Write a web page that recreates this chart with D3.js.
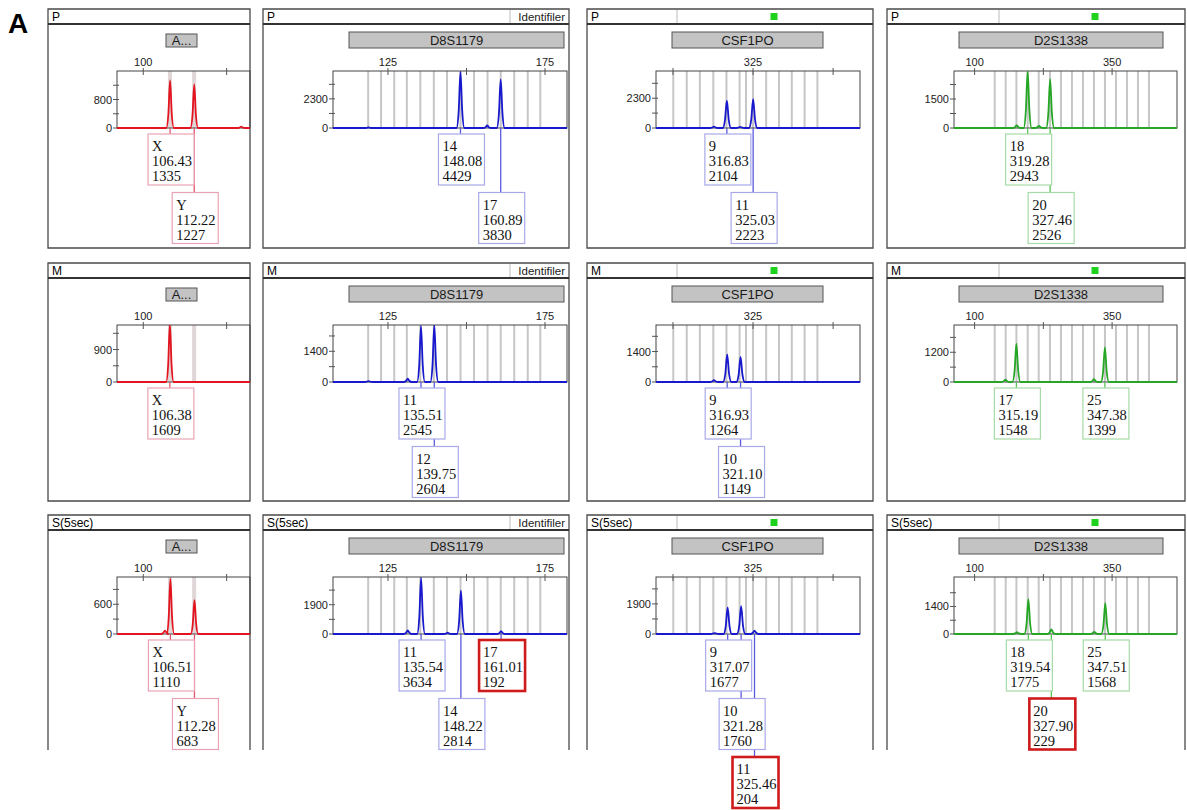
<!DOCTYPE html>
<html>
<head>
<meta charset="utf-8">
<script src="https://cdn.jsdelivr.net/npm/d3@7"></script>
<style>
  body { margin: 0; background: #fff; }
  svg { display: block; font-family: Arial, 'Liberation Sans', sans-serif; }
</style>
</head>
<body>
<div id="app"></div>
<script>
const samples = ['P', 'M', 'S(5sec)']
const loci = ['A...', 'D8S1179', 'CSF1PO', 'D2S1338']

// x ticks (bp) and the labels the software printed for them
const xTicks = [[100, 120], [125, 150, 175], [300, 325, 350], [300, 325, 350]]
const xTickLabels = [['100', ''], ['125', '', '175'], ['', '325', ''], ['100', '', '350']]
const xDomains = [[93.7, 125.6], [107.5, 182], [294.7, 358.4], [292.5, 373.6]]

// labelled y tick per panel (RFU), one row per sample
const yTickLabels = [
  [800, 2300, 2300, 1500],
  [900, 1400, 1400, 1200],
  [600, 1900, 1900, 1400]
]
// top of each panel's RFU scale
const yTops = [
  [1600, 4500, 4400, 2950],
  [1580, 2600, 2620, 2300],
  [1150, 3700, 3600, 2900]
]

// allele bins (bp)
const binsAmel = [106.4, 112.2]
const binsD8 = [118.7, 122.8, 127.0, 131.0, 135.3, 139.6, 143.8, 148.1, 152.4, 156.7, 160.9, 165.2, 169.5, 173.5]
const binsCSF = [300.1, 304.3, 308.4, 312.6, 316.7, 320.8, 322.8, 325.0, 329.1, 333.1, 337.1, 341.1, 345.1]
const binsD2 = [307.3, 311.3, 315.2, 319.3, 323.3, 327.4, 331.4, 335.4, 339.4, 343.4, 347.4, 351.4, 355.4, 359.4, 363.4]
const bins = [binsAmel, binsD8, binsCSF, binsD2]

// called alleles: [allele, size (bp), height (RFU)]
const callsP = [
  [['X', 106.43, 1335], ['Y', 112.22, 1227]],
  [['14', 148.08, 4429], ['17', 160.89, 3830]],
  [['9', 316.83, 2104], ['11', 325.03, 2223]],
  [['18', 319.28, 2943], ['20', 327.46, 2526]]
]
const callsM = [
  [['X', 106.38, 1609]],
  [['11', 135.51, 2545], ['12', 139.75, 2604]],
  [['9', 316.93, 1264], ['10', 321.10, 1149]],
  [['17', 315.19, 1548], ['25', 347.38, 1399]]
]
const callsS = [
  [['X', 106.51, 1110], ['Y', 112.28, 683]],
  [['11', 135.54, 3634], ['14', 148.22, 2814], ['17', 161.01, 192]],
  [['9', 317.07, 1677], ['10', 321.28, 1760], ['11', 325.46, 204]],
  [['18', 319.54, 1775], ['20', 327.90, 229], ['25', 347.51, 1568]]
]
// small uncalled peaks: [size (bp), height (RFU)]
const minorP = [[[123.5, 40]], [[118.8, 50], [156.6, 200]], [[312.8, 110], [321.0, 90]], [[315.3, 140], [323.4, 110]]]
const minorM = [[], [[131.3, 150], [118.8, 40]], [[312.8, 80]], [[311.2, 90], [343.4, 110]]]
const minorS = [[[105.2, 70]], [[131.3, 230], [144.0, 80]], [[313.0, 60]], [[315.4, 100], [343.5, 110]]]
const calls = [callsP, callsM, callsS]
const minors = [minorP, minorM, minorS]
const lowRFU = 300

// layout
const W = 1187, H = 810
const colLeft = [48, 263, 587, 887]
const colRight = [250, 569, 873, 1185]
const plotLeft = [117, 333, 656, 954]
const plotRight = [250, 567, 860, 1177]
const rowTop = [9, 263, 515]
const rowBottom = [248, 501, 750]
const barX = [[166, 197], [349, 564], [672, 823], [959, 1163]]
const sepX = [null, 510, 677, 999]
const squareX = [null, null, 774, 1095]
const halfWidth = [0.9, 1.25, 1.3, 1.45]
const traceColor = ['#e3141f', '#1818cc', '#1818cc', '#25a625']
const boxColor = ['#eaa3b4', '#a9a9ea', '#a9a9ea', '#a6daa6']
const linkColor = ['#e0566c', '#5a5ade', '#5a5ade', '#58c658']
const boxW = 46, boxH = 51

const svg = d3.select('#app').append('svg')
  .attr('width', W)
  .attr('height', H)

svg.append('text')
  .attr('x', 8)
  .attr('y', 33)
  .style('font-size', '28px')
  .style('font-weight', 'bold')
  .text('A')

samples.forEach((sample, r) => {
  loci.forEach((locus, c) => {
    const top = rowTop[r]
    const pTop = top + 62
    const base = top + 119
    const L = colLeft[c], R = colRight[c]
    const g = svg.append('g')

    const x = d3.scaleLinear().domain(xDomains[c]).range([plotLeft[c], plotRight[c]])
    const y = d3.scaleLinear().domain([0, yTops[r][c]]).range([base, pTop])

    // panel frame, bottom row is cut off
    const framePath = r < 2
      ? `M${L},${top}H${R}V${rowBottom[r]}H${L}Z`
      : `M${L},${rowBottom[r]}V${top}H${R}V${rowBottom[r]}`
    g.append('path')
      .attr('d', framePath)
      .attr('fill', 'none')
      .attr('stroke', '#4a4a4a')
      .attr('stroke-width', 1.3)
    g.append('line')
      .attr('x1', L).attr('x2', R)
      .attr('y1', top + 15).attr('y2', top + 15)
      .attr('stroke', '#333')
      .attr('stroke-width', 1.8)
    g.append('text')
      .attr('x', L + 4)
      .attr('y', top + 12)
      .style('font-size', '12px')
      .text(sample)
    if (sepX[c]) {
      g.append('line')
        .attr('x1', sepX[c]).attr('x2', sepX[c])
        .attr('y1', top + 1).attr('y2', top + 14)
        .attr('stroke', '#bbb')
    }
    if (c === 1) {
      g.append('text')
        .attr('x', R - 4)
        .attr('y', top + 12)
        .attr('text-anchor', 'end')
        .style('font-size', '11.5px')
        .attr('fill', '#222')
        .text('Identifiler')
    }
    if (squareX[c]) {
      g.append('rect')
        .attr('x', squareX[c] - 3.5)
        .attr('y', top + 4)
        .attr('width', 7)
        .attr('height', 7)
        .attr('fill', '#1ed21e')
    }

    // locus bar
    const bTop = c === 0 ? top + 25 : top + 23
    const bH = c === 0 ? 13 : 16
    g.append('rect')
      .attr('x', barX[c][0])
      .attr('y', bTop)
      .attr('width', barX[c][1] - barX[c][0])
      .attr('height', bH)
      .attr('fill', '#c3c3c3')
      .attr('stroke', '#555')
    g.append('text')
      .attr('x', (barX[c][0] + barX[c][1]) / 2)
      .attr('y', bTop + bH / 2 + 4.5)
      .attr('text-anchor', 'middle')
      .style('font-size', '13px')
      .attr('fill', '#1a1a1a')
      .text(locus)

    // bins
    if (c === 0) {
      g.selectAll('.bin').data(bins[c]).enter().append('line')
        .attr('x1', d => x(d)).attr('x2', d => x(d))
        .attr('y1', pTop).attr('y2', base)
        .attr('stroke', '#e0d6d8')
        .attr('stroke-width', 4)
    } else {
      g.selectAll('.bin').data(bins[c]).enter().append('line')
        .attr('x1', d => x(d)).attr('x2', d => x(d))
        .attr('y1', pTop).attr('y2', base)
        .attr('stroke', '#c6c6c6')
        .attr('stroke-width', 2)
    }

    // plot frame
    g.append('rect')
      .attr('x', plotLeft[c])
      .attr('y', pTop)
      .attr('width', plotRight[c] - plotLeft[c])
      .attr('height', base - pTop)
      .attr('fill', 'none')
      .attr('stroke', '#444')

    // x ticks on top edge
    xTicks[c].forEach((t, i) => {
      g.append('line')
        .attr('x1', x(t)).attr('x2', x(t))
        .attr('y1', pTop - 3).attr('y2', pTop + 4)
        .attr('stroke', '#555')
      g.append('text')
        .attr('x', x(t))
        .attr('y', pTop - 5)
        .attr('text-anchor', 'middle')
        .style('font-size', '11px')
        .attr('fill', '#222')
        .text(xTickLabels[c][i])
    })

    // y ticks
    const lab = yTickLabels[r][c]
    ;[0, lab / 2, lab, lab * 1.5].forEach(t => {
      if (t > yTops[r][c]) return
      g.append('line')
        .attr('x1', plotLeft[c] - 4).attr('x2', plotLeft[c] + 2)
        .attr('y1', y(t)).attr('y2', y(t))
        .attr('stroke', '#555')
    })
    ;[0, lab].forEach(t => {
      g.append('text')
        .attr('x', plotLeft[c] - 5)
        .attr('y', y(t) + 4)
        .attr('text-anchor', 'end')
        .style('font-size', '11px')
        .attr('fill', '#222')
        .text(t)
    })

    // trace
    const peaks = calls[r][c].map(d => [d[1], d[2]])
      .concat(minors[r][c])
      .sort((a, b) => a[0] - b[0])
    const hw = halfWidth[c]
    const pts = [[xDomains[c][0], 0]]
    peaks.forEach(p => {
      pts.push([p[0] - hw, 0], [p[0] - hw * 0.45, p[1] * 0.3], [p[0], p[1]],
        [p[0] + hw * 0.45, p[1] * 0.3], [p[0] + hw, 0])
    })
    pts.push([xDomains[c][1], 0])

    const clipId = `clip-${r}-${c}`
    svg.append('clipPath').attr('id', clipId)
      .append('rect')
      .attr('x', plotLeft[c])
      .attr('y', pTop)
      .attr('width', plotRight[c] - plotLeft[c])
      .attr('height', base - pTop + 2)

    const line = d3.line()
      .x(d => x(d[0]))
      .y(d => y(d[1]))
      .curve(d3.curveMonotoneX)
    g.append('path')
      .attr('clip-path', `url(#${clipId})`)
      .attr('d', line(pts))
      .attr('fill', 'none')
      .attr('stroke', traceColor[c])
      .attr('stroke-width', 1.8)

    // allele label boxes, stacked so they do not overlap
    const levels = []
    const boxes = calls[r][c].slice().sort((a, b) => a[1] - b[1]).map(d => {
      const bx = x(d[1]) - 22
      let lv = 0
      while ((levels[lv] || []).some(e => bx < e + boxW && bx + boxW > e)) lv++
      levels[lv] = (levels[lv] || []).concat([bx])
      return { allele: d[0], size: d[1], height: d[2], bx: bx, by: base + 6 + lv * 58.5 }
    })

    g.selectAll('.link').data(boxes).enter().append('line')
      .attr('x1', d => x(d.size)).attr('x2', d => x(d.size))
      .attr('y1', base).attr('y2', d => d.by)
      .attr('stroke', linkColor[c])
      .attr('stroke-width', 1.3)

    const bg = g.selectAll('.box').data(boxes).enter().append('g')
    bg.append('rect')
      .attr('x', d => d.bx)
      .attr('y', d => d.by)
      .attr('width', boxW)
      .attr('height', boxH)
      .attr('fill', '#fff')
      .attr('stroke', d => d.height < lowRFU ? '#cf1b1b' : boxColor[c])
      .attr('stroke-width', d => d.height < lowRFU ? 2.6 : 1.2)
    bg.each(function (d) {
      const t = d3.select(this)
      ;[d.allele, d.size.toFixed(2), d.height].forEach((s, i) => {
        t.append('text')
          .attr('x', d.bx + 4)
          .attr('y', d.by + 17 + i * 15)
          .style('font-family', "'Liberation Serif', 'Times New Roman', serif")
          .style('font-size', '14.5px')
          .attr('fill', '#111')
          .text(s)
      })
    })
  })
})
</script>
</body>
</html>
